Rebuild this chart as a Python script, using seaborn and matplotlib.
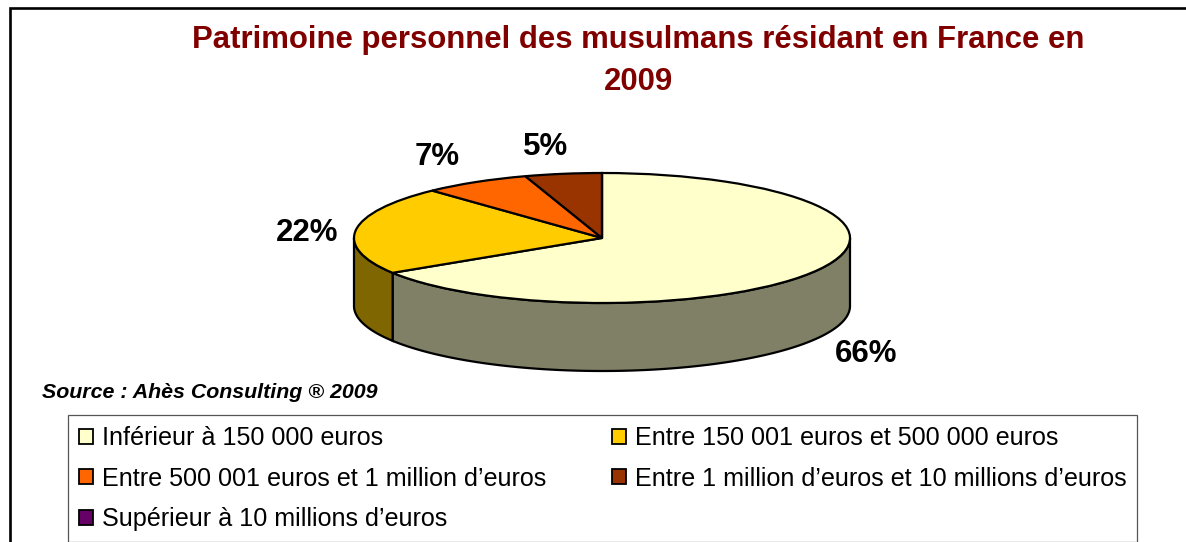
import numpy as np
import matplotlib
matplotlib.use("Agg")
import matplotlib.pyplot as plt
from matplotlib.patches import Rectangle
import seaborn as sns

title_lines = ["Patrimoine personnel des musulmans résidant en France en", "2009"]
source_text = "Source : Ahès Consulting ® 2009"
categories = ["Inférieur à 150 000 euros",
              "Entre 150 001 euros et 500 000 euros",
              "Entre 500 001 euros et 1 million d’euros",
              "Entre 1 million d’euros et 10 millions d’euros",
              "Supérieur à 10 millions d’euros"]
values = [66, 22, 7, 5, 0]
top_colors = ["#FFFFCC", "#FFCC00", "#FF6600", "#993300", "#660066"]
side_colors = ["#808066", "#806600", "#803300", "#661A00", "#330033"]
value_labels = ["66%", "22%", "7%", "5%"]

W, H = 1186, 542
sns.set_theme(style="white")
plt.rcParams["font.family"] = ["Liberation Sans", "DejaVu Sans"]
plt.rcParams["text.color"] = "black"
palette = sns.color_palette(top_colors)

fig = plt.figure(figsize=(W / 100, H / 100), dpi=100, facecolor="white")

def box(x0, y0, x1, y1):
    return [x0 / W, 1 - y1 / H, (x1 - x0) / W, (y1 - y0) / H]

LW = 1.6
DEPTH = 68 / 65
ax = fig.add_axes(box(354, 173, 850, 371))
ax.axis("off")

wedges, _ = ax.pie(values, colors=palette, startangle=90, counterclock=False,
                   radius=1, center=(0, 0),
                   wedgeprops=dict(edgecolor="black", linewidth=LW, zorder=3,
                                   clip_on=False))

# side wall of the 3D disc, from the same shares
edges = 90 - 360 * np.cumsum([0] + values) / sum(values)
for a0, a1, col in zip(edges[:-1], edges[1:], side_colors):
    lo, hi = max(min(a0, a1), -180), min(max(a0, a1), 0)
    if lo >= hi:
        continue
    t = np.radians(np.linspace(lo, hi, 200))
    xs, ys = np.cos(t), np.sin(t)
    ax.fill(np.r_[xs, xs[::-1]], np.r_[ys, (ys - DEPTH)[::-1]],
            facecolor=col, edgecolor="black", linewidth=LW, zorder=2,
            clip_on=False)

ax.set_aspect("auto")
ax.set_xlim(-1, 1)
ax.set_ylim(-1 - DEPTH, 1)

def px_text(x, y, s, **kw):
    fig.text(x / W, 1 - y / H, s, ha=kw.pop("ha", "center"), va="center", **kw)

for (x, y), s in zip([(866, 354), (307, 233), (437, 157), (546, 147)], value_labels):
    px_text(x, y, s, fontsize=22.5, fontweight="bold", color="black")

px_text(638, 40, title_lines[0], fontsize=22.4, fontweight="bold", color="#800000")
px_text(638.5, 82, title_lines[1], fontsize=22.4, fontweight="bold", color="#800000")
px_text(42, 393, source_text, ha="left", fontsize=15.4, fontweight="bold",
        fontstyle="italic", color="black")

# figure frame, running off the right and bottom edges
fig.add_artist(Rectangle((10 / W, -0.05), 1.1, 1 - 8 / H + 0.05,
                         transform=fig.transFigure, fill=False,
                         edgecolor="black", linewidth=1.9))
# legend box
fig.add_artist(Rectangle((68 / W, 0), (1137 - 68) / W, 1 - 415 / H,
                         transform=fig.transFigure, facecolor="white",
                         edgecolor="#555555", linewidth=0.9))

# legend: filled by column, so order to read row by row
order = [0, 2, 4, 1, 3]
leg = fig.legend([wedges[i] for i in order], [categories[i] for i in order],
                 ncol=2, loc="upper left",
                 bbox_to_anchor=(68 / W, 1 - 415 / H),
                 bbox_transform=fig.transFigure,
                 fontsize=18.1, frameon=False, borderaxespad=0,
                 handlelength=0.56, handleheight=0.56, handletextpad=0.36,
                 labelspacing=0.66, borderpad=0.44, columnspacing=2.6)
for h in leg.legend_handles:
    h.set_linewidth(1.3)

fig.savefig("out.png", dpi=100)
